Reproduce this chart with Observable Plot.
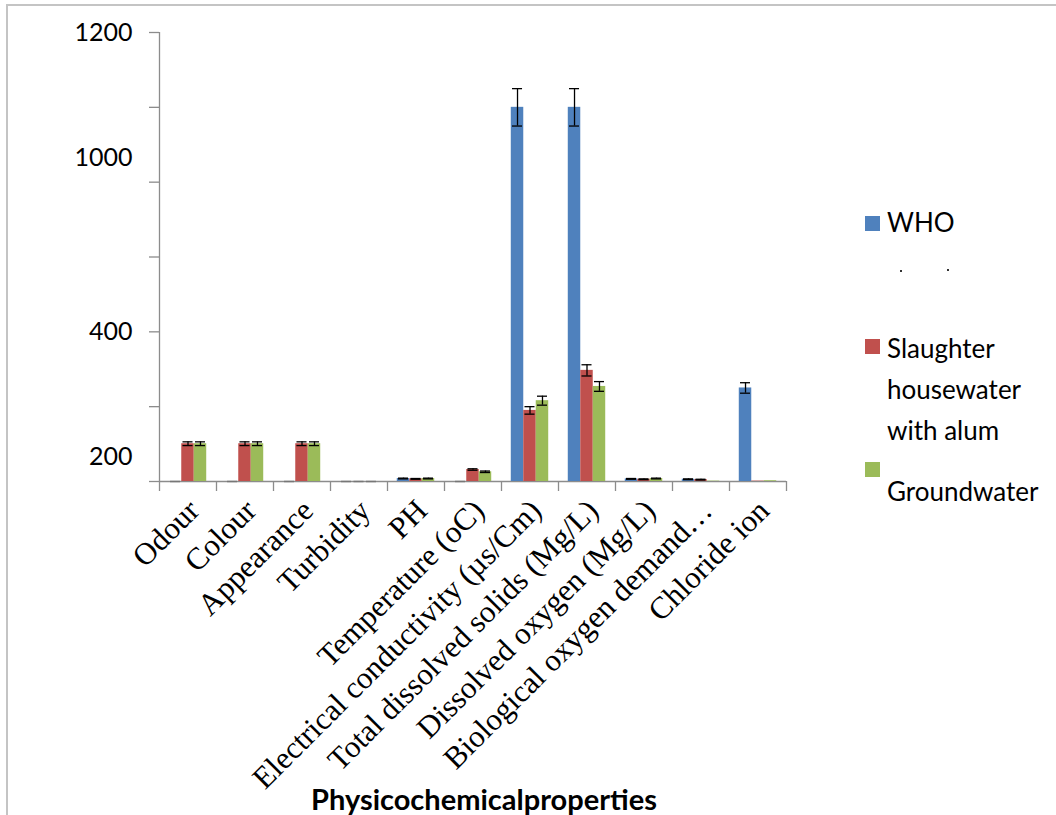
<!DOCTYPE html>
<html>
<head>
<meta charset="utf-8">
<script src="https://cdn.jsdelivr.net/npm/d3@7"></script>
<script src="https://cdn.jsdelivr.net/npm/@observablehq/plot@0.6"></script>
<style>
  html, body { margin: 0; padding: 0; background: #fff; }
  #wrap { position: relative; width: 1056px; height: 815px; overflow: hidden; background: #fff; }
  #border { position: absolute; left: 6px; top: 4px; right: -4px; bottom: -4px; border-top: 2px solid #c4c4c4; border-left: 2px solid #c4c4c4; }
  #chart { position: absolute; left: 0; top: 0; }
  .leg { position: absolute; font-family: Lato, "Open Sans", sans-serif; font-size: 26px; color: #000; line-height: 41px; white-space: nowrap; }
  .sw { position: absolute; width: 15px; height: 15px; }
  .dot { position: absolute; width: 2px; height: 2px; background: #333; }
  #title { position: absolute; left: 0; width: 968px; text-align: center; top: 781px; font-family: Lato, sans-serif; font-weight: bold; font-size: 29px; color: #000; }
</style>
</head>
<body>
<div id="wrap">
  <div id="border"></div>
  <div id="chart"></div>
  <div id="legend"></div>
  <div id="title">Physicochemicalproperties</div>
</div>
<script>
// ---- data ----
const categories = ["Odour", "Colour", "Appearance", "Turbidity", "PH", "Temperature (oC)",
  "Electrical conductivity (µs/Cm)", "Total dissolved solids (Mg/L)", "Dissolved oxygen (Mg/L)",
  "Biological oxygen demand…", "Chloride ion"];
const seriesNames = ["WHO", "Slaughter housewater with alum", "Groundwater"];
const seriesColors = ["#4F81BD", "#C0504D", "#9BBB59"];
const who        = [0, 0, 0, 0, 8, 0, 1000, 1000, 7, 6, 250];
const slaughter  = [101, 101, 101, 0, 7, 32, 190, 297, 6, 5, 1];
const groundwater= [101, 101, 101, 0, 8, 26, 216, 254, 8, 1, 2];
const whoErr       = [0, 0, 0, 0, 1, 0, 50, 50, 1, 1, 14];
const slaughterErr = [5, 5, 5, 0, 1, 2, 10, 15, 1, 1, 0];
const groundErr    = [5, 5, 5, 0, 1, 2, 12, 13, 1, 0, 0];
const yTicks = [0, 200, 400, 600, 800, 1000, 1200];
const yTickLabels = ["1200", "1000", "400", "200"];
const yTickLabelValues = [1200, 865, 400, 65];

// ---- build table ----
const seriesValues = [who, slaughter, groundwater];
const seriesErrors = [whoErr, slaughterErr, groundErr];
const bw = 0.219;
const rows = [];
categories.forEach((c, i) => {
  seriesNames.forEach((s, k) => {
    const center = i + (k - 1) * bw;
    rows.push({cat: c, series: s, value: seriesValues[k][i], err: seriesErrors[k][i],
      x1: center - bw / 2, x2: center + bw / 2, cx: center});
  });
});
const errRows = rows.filter(d => d.err > 0);
const zeroRows = rows.filter(d => d.value === 0);
const capHalf = 0.088;
const axisColor = "#8c8c8c";

const plot = Plot.plot({
  width: 1056,
  height: 815,
  marginLeft: 159,
  marginRight: 270,
  marginTop: 32,
  marginBottom: 334,
  x: {type: "linear", domain: [-0.5, categories.length - 0.5], axis: null},
  y: {domain: [0, 1200], axis: null},
  color: {domain: seriesNames, range: seriesColors},
  style: {background: "transparent", overflow: "visible"},
  marks: [
    // y axis line and ticks
    Plot.ruleX([-0.5], {stroke: axisColor, strokeWidth: 1.3}),
    Plot.axisY({ticks: yTicks, tickSize: 10, tickFormat: () => "", label: null, color: axisColor, strokeWidth: 1.3}),
    Plot.text(yTickLabels, {y: (d, i) => yTickLabelValues[i], text: d => d, frameAnchor: "left",
      textAnchor: "end", dx: -27, fontSize: 25, fontFamily: "Lato", fill: "#000"}),
    // x axis line and ticks at category boundaries
    Plot.ruleY([0], {stroke: axisColor, strokeWidth: 1.3}),
    Plot.axisX({ticks: d3.range(-0.5, categories.length, 1), tickSize: 10, tickFormat: () => "", label: null, color: axisColor, strokeWidth: 1.3}),
    Plot.text(categories, {x: (d, i) => i, text: d => d, frameAnchor: "bottom", rotate: -45,
      textAnchor: "end", lineAnchor: "middle", dx: 6, dy: 24, fontSize: 31,
      fontFamily: "Liberation Serif", fill: "#000"}),
    // bars
    Plot.rectY(rows, {x1: "x1", x2: "x2", y: "value", fill: "series"}),
    Plot.ruleY(zeroRows, {y: 0, x1: d => d.cx - bw * 0.4, x2: d => d.cx + bw * 0.4, stroke: "#777", strokeWidth: 1.5}),
    // error bars
    Plot.ruleX(errRows, {x: "cx", y1: d => d.value - d.err, y2: d => d.value + d.err, stroke: "#000", strokeWidth: 1.3}),
    Plot.ruleY(errRows, {y: d => d.value + d.err, x1: d => d.cx - capHalf, x2: d => d.cx + capHalf, stroke: "#000", strokeWidth: 1.3}),
    Plot.ruleY(errRows, {y: d => d.value - d.err, x1: d => d.cx - capHalf, x2: d => d.cx + capHalf, stroke: "#000", strokeWidth: 1.3})
  ]
});
document.getElementById("chart").appendChild(plot);

// ---- legend (HTML) ----
const legend = document.getElementById("legend");
const legendItems = [
  {lines: ["WHO"], sw: 216, top: 202},
  {lines: ["Slaughter", "housewater", "with alum"], sw: 339, top: 328},
  {lines: ["Groundwater"], sw: 462, top: 471}
];
legendItems.forEach((it, k) => {
  const s = document.createElement("div");
  s.className = "sw";
  s.style.left = "865px";
  s.style.top = it.sw + "px";
  s.style.background = seriesColors[k];
  legend.appendChild(s);
  const t = document.createElement("div");
  t.className = "leg";
  t.style.left = "887px";
  t.style.top = it.top + "px";
  t.innerHTML = it.lines.join("<br>");
  legend.appendChild(t);
});
// clipped remnants of a hidden legend line
[[900, 270], [947, 269]].forEach(([x, y]) => {
  const d = document.createElement("div");
  d.className = "dot";
  d.style.left = x + "px";
  d.style.top = y + "px";
  legend.appendChild(d);
});
</script>
</body>
</html>
